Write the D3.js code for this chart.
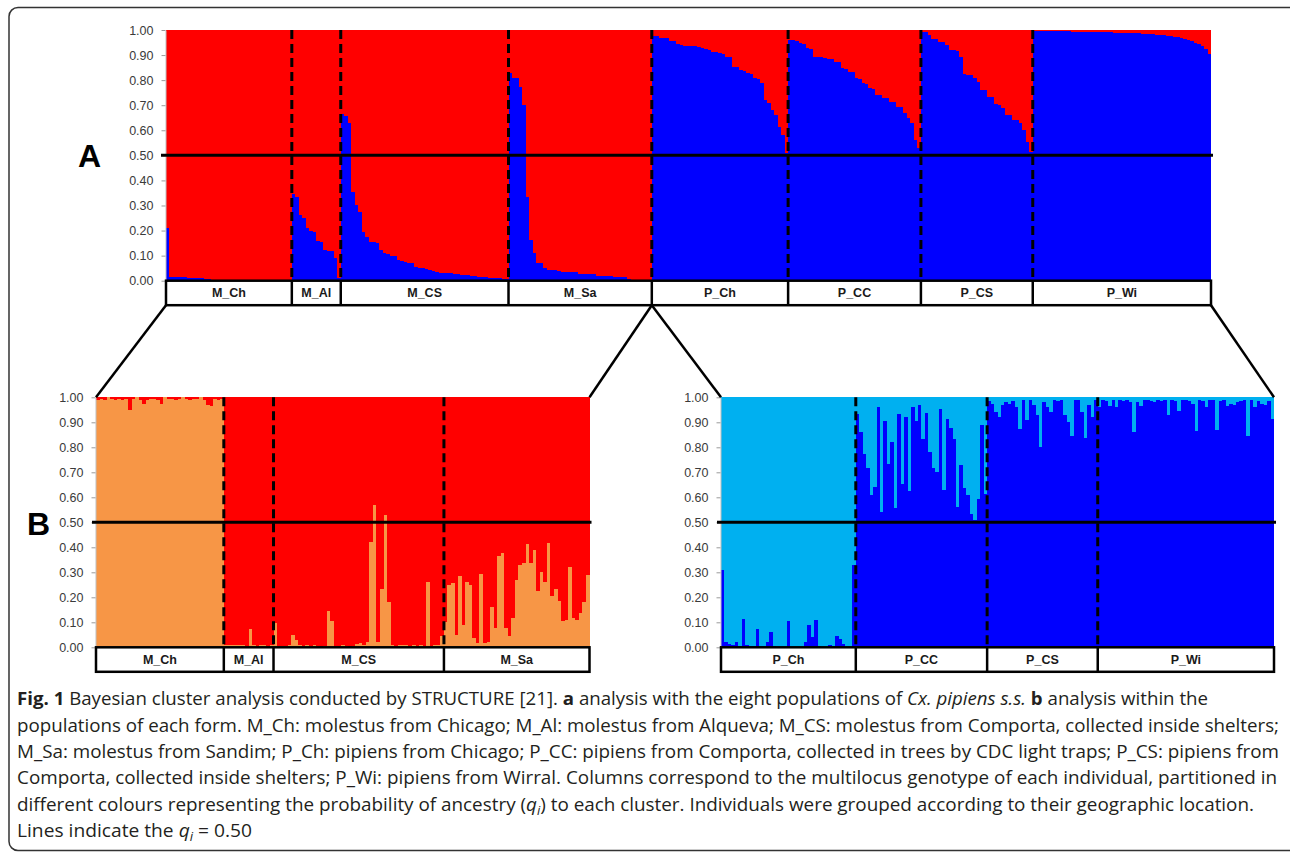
<!DOCTYPE html>
<html><head><meta charset="utf-8">
<script src="https://cdn.jsdelivr.net/npm/d3@7"></script>
<style>body{margin:0;background:#fff}svg{display:block}</style>
</head><body>
<svg id="c" width="1290" height="852"></svg>
<script>
// ---------- DATA ----------
const groupsMolestus = ["M_Ch", "M_Al", "M_CS", "M_Sa"];
const groupsPipiens = ["P_Ch", "P_CC", "P_CS", "P_Wi"];
const tickValues = [0, 0.1, 0.2, 0.3, 0.4, 0.5, 0.6, 0.7, 0.8, 0.9, 1.0];

// Panel A: probability of the "blue" cluster per individual (sorted within population)
const topMCh = [0.21,0.015,0.015,0.015,0.014,0.013,0.012,0.011,0.01,0.01,0.009,0.008,0.006,0.004,0.003,0.002,0.002,0.001,0.001,0.001,0.001,0.001,0.001,0.001,0.001,0.001,0.001,0.001,0.001,0.001,0.001,0.001,0.001,0.001,0.001,0.001];
const topMAl = [0.344,0.334,0.262,0.25,0.209,0.2,0.193,0.16,0.156,0.121,0.12,0.119,0.089,0.01];
const topMCS = [0.666,0.655,0.628,0.355,0.30,0.275,0.193,0.175,0.156,0.156,0.15,0.122,0.11,0.105,0.10,0.10,0.082,0.08,0.075,0.072,0.07,0.053,0.052,0.05,0.048,0.042,0.04,0.033,0.032,0.032,0.031,0.03,0.025,0.025,0.024,0.023,0.022,0.018,0.017,0.016,0.015,0.014,0.012,0.011,0.01,0.009,0.006,0.005];
const topMSa = [0.827,0.807,0.807,0.774,0.70,0.335,0.162,0.109,0.069,0.069,0.052,0.044,0.044,0.044,0.04,0.036,0.036,0.036,0.036,0.036,0.027,0.027,0.027,0.027,0.027,0.02,0.02,0.02,0.02,0.02,0.013,0.013,0.013,0.013,0.005,0.003,0.002,0.002,0.001,0.001,0.0];
const topPCh = [0.976,0.975,0.969,0.968,0.967,0.956,0.955,0.943,0.942,0.936,0.936,0.935,0.935,0.931,0.93,0.923,0.922,0.914,0.913,0.907,0.906,0.894,0.893,0.854,0.853,0.84,0.838,0.827,0.825,0.807,0.805,0.787,0.72,0.707,0.68,0.66,0.614,0.58,0.508];
const topPCC = [0.96,0.96,0.958,0.947,0.946,0.927,0.926,0.894,0.894,0.893,0.887,0.886,0.885,0.874,0.873,0.847,0.846,0.834,0.833,0.807,0.806,0.787,0.786,0.767,0.766,0.741,0.74,0.73,0.729,0.714,0.713,0.694,0.693,0.668,0.648,0.628,0.561,0.528];
const topPCS = [0.993,0.992,0.98,0.964,0.963,0.953,0.952,0.94,0.92,0.919,0.918,0.894,0.823,0.822,0.821,0.807,0.794,0.76,0.759,0.734,0.733,0.703,0.702,0.687,0.661,0.66,0.641,0.64,0.628,0.601,0.555,0.515];
const topPWi = [0.998,0.998,0.997,0.997,0.997,0.996,0.996,0.996,0.995,0.995,0.995,0.994,0.994,0.994,0.993,0.993,0.993,0.992,0.992,0.992,0.991,0.991,0.991,0.99,0.99,0.99,0.989,0.989,0.988,0.988,0.987,0.986,0.985,0.984,0.983,0.982,0.981,0.98,0.978,0.976,0.974,0.972,0.968,0.965,0.96,0.955,0.95,0.945,0.935,0.925,0.905];

// Panel B (molestus): probability of the "orange" cluster
const botMCh = [0.99,0.995,0.99,1.0,0.995,0.99,0.995,0.99,0.995,0.95,0.995,1.0,0.99,0.975,0.99,0.995,0.995,0.99,0.975,1.0,0.995,0.995,0.99,0.995,1.0,0.995,0.99,0.995,0.995,1.0,0.99,0.97,0.965,0.995,0.99,0.995];
const botMAl = [0.01,0.01,0.008,0.01,0.01,0.01,0.005,0.072,0.01,0.005,0.008,0.01,0.005,0.008];
const botMCS = [0.096,0.005,0.005,0.005,0.01,0.05,0.03,0.01,0.005,0.008,0.005,0.008,0.005,0.003,0.005,0.145,0.105,0.003,0.003,0.01,0.005,0.003,0.005,0.012,0.016,0.01,0.02,0.42,0.57,0.02,0.235,0.53,0.18,0.01,0.005,0.01,0.008,0.01,0.005,0.01,0.005,0.008,0.005,0.26,0.005,0.008,0.01,0.047];
const botMSa = [0.10,0.25,0.256,0.05,0.284,0.09,0.263,0.25,0.036,0.016,0.295,0.016,0.023,0.16,0.076,0.367,0.376,0.076,0.047,0.116,0.27,0.33,0.336,0.413,0.336,0.39,0.225,0.303,0.263,0.417,0.207,0.233,0.185,0.107,0.11,0.323,0.116,0.11,0.136,0.18,0.29];

// Panel B (pipiens): probability of the "dark blue" cluster
const botPCh = [0.31,0.02,0.015,0.01,0.02,0.005,0.115,0.01,0.005,0.005,0.075,0.005,0.005,0.02,0.06,0.005,0.003,0.003,0.003,0.105,0.003,0.003,0.003,0.003,0.02,0.09,0.04,0.11,0.005,0.003,0.003,0.008,0.005,0.045,0.035,0.015,0.003,0.003,0.33];
const botPCC = [0.933,0.86,0.772,0.716,0.61,0.643,0.963,0.54,0.905,0.733,0.823,0.559,0.932,0.653,0.923,0.625,0.963,0.905,0.97,0.832,0.936,0.783,0.719,0.70,0.952,0.629,0.913,0.876,0.833,0.561,0.729,0.636,0.61,0.535,0.51,0.595,0.89,0.615];
const botPCS = [0.985,0.975,0.94,0.92,0.97,0.98,0.975,0.985,0.96,0.873,0.99,0.91,0.99,0.97,0.93,0.80,0.98,0.96,0.94,0.99,0.985,0.99,0.93,0.90,0.847,0.99,0.99,0.94,0.836,0.97,0.92,0.99];
const botPWi = [0.96,0.99,0.985,0.965,0.99,0.96,0.99,0.985,0.99,0.98,0.86,0.98,0.965,0.99,0.99,0.985,0.98,0.99,0.985,0.99,0.93,0.99,0.985,0.945,0.99,0.99,0.985,0.975,0.865,0.99,0.985,0.96,0.99,0.99,0.87,0.985,0.99,0.965,0.975,0.97,0.98,0.985,0.99,0.845,0.99,0.96,0.985,0.975,0.97,0.985,0.915];

// ---------- DRAWING ----------
const svg = d3.select("#c");
const FONT = "'Liberation Sans', Arial, sans-serif";

// outer frame
svg.append("rect").attr("x", 9).attr("y", 7.5).attr("width", 1300).attr("height", 843)
  .attr("rx", 9).attr("fill", "none").attr("stroke", "#333").attr("stroke-width", 1.5);

function drawPanel(p) {
  const items = [];
  p.groups.forEach((g, gi) => p.values[gi].forEach((v, i) => items.push({ id: g + "-" + i, g, v })));
  const x = d3.scaleBand().domain(items.map(d => d.id)).range([p.x0, p.x1]).padding(0);
  const y = d3.scaleLinear().domain([0, 1]).range([p.yBot, p.yTop]);
  const bw = x.bandwidth();
  const G = svg.append("g");
  const lastId = items[items.length - 1].id;
  const wOf = d => d.id === lastId ? bw : bw + 1;

  const bars = G.append("g").attr("shape-rendering", "crispEdges")
    .selectAll("g.bar").data(items).join("g").attr("class", "bar");
  bars.append("rect")
    .attr("x", d => x(d.id)).attr("y", y(1))
    .attr("width", wOf)
    .attr("height", d => y(d.v) - y(1))
    .attr("fill", p.hiColor);
  bars.append("rect")
    .attr("x", d => x(d.id)).attr("y", d => y(d.v))
    .attr("width", wOf)
    .attr("height", d => y(0) - y(d.v))
    .attr("fill", p.loColor);

  // axis
  const ax = G.append("g").attr("transform", `translate(${p.x0 - 0.5},0)`)
    .call(d3.axisLeft(y).tickValues(tickValues).tickFormat(d3.format(".2f")).tickSize(4).tickSizeOuter(0).tickPadding(8));
  ax.attr("font-family", FONT).attr("font-size", 12.5);
  ax.select(".domain").attr("stroke", "#bfbfbf");
  ax.selectAll(".tick line").attr("stroke", "#9a9a9a");
  ax.selectAll(".tick text").attr("fill", "#3a3a3a");

  // group boundaries (dashed)
  const firsts = p.groups.map(g => items.find(d => d.g === g).id);
  const bounds = firsts.slice(1).map(id => x(id));
  G.selectAll("line.dash").data(bounds).join("line").attr("class", "dash")
    .attr("x1", d => d).attr("x2", d => d).attr("y1", y(1)).attr("y2", y(0))
    .attr("stroke", "#000").attr("stroke-width", 3).attr("stroke-dasharray", "9,5");

  // 0.50 line
  G.append("line").attr("x1", p.x0 - p.lineLeft).attr("x2", p.x1 + 2)
    .attr("y1", y(0.5)).attr("y2", y(0.5)).attr("stroke", "#000").attr("stroke-width", 3);

  // label box
  const bh = 24.5;
  G.append("rect").attr("x", p.x0).attr("y", y(0)).attr("width", p.x1 - p.x0).attr("height", bh)
    .attr("fill", "#fff").attr("stroke", "#000").attr("stroke-width", 2.5);
  G.selectAll("line.sep").data(bounds).join("line").attr("class", "sep")
    .attr("x1", d => d).attr("x2", d => d).attr("y1", y(0)).attr("y2", y(0) + bh)
    .attr("stroke", "#000").attr("stroke-width", 2.5);
  G.selectAll("text.glab").data(p.groups).join("text").attr("class", "glab")
    .attr("x", g => {
      const ids = items.filter(d => d.g === g);
      return (x(ids[0].id) + x(ids[ids.length - 1].id) + bw) / 2;
    })
    .attr("y", y(0) + bh / 2 + 4.5)
    .attr("text-anchor", "middle").attr("font-family", FONT).attr("font-weight", "bold")
    .attr("font-size", 12.5).attr("fill", "#1a1a1a").text(g => g);

  return { x, y, items, boxBottom: y(0) + bh };
}

const RED = "#ff0000", BLUE = "#0000ff", ORANGE = "#f79646", LIGHTBLUE = "#00b0f0";

const A = drawPanel({
  groups: groupsMolestus.concat(groupsPipiens),
  values: [topMCh, topMAl, topMCS, topMSa, topPCh, topPCC, topPCS, topPWi],
  x0: 166, x1: 1211, yTop: 30, yBot: 280.7, hiColor: RED, loColor: BLUE, lineLeft: 5
});
const BL = drawPanel({
  groups: groupsMolestus,
  values: [botMCh, botMAl, botMCS, botMSa],
  x0: 96, x1: 589.5, yTop: 397.3, yBot: 647.3, hiColor: RED, loColor: ORANGE, lineLeft: 4
});
const BR = drawPanel({
  groups: groupsPipiens,
  values: [botPCh, botPCC, botPCS, botPWi],
  x0: 721, x1: 1274, yTop: 397.3, yBot: 647.3, hiColor: LIGHTBLUE, loColor: BLUE, lineLeft: 4
});

// connectors between panel A and panel B
const splitX = A.x(groupsPipiens[0] + "-0");
const conn = [
  [166, A.boxBottom, 96, 397.3],
  [splitX, A.boxBottom, 589.5, 397.3],
  [splitX, A.boxBottom, 721, 397.3],
  [1211, A.boxBottom, 1274, 397.3]
];
svg.selectAll("line.conn").data(conn).join("line").attr("class", "conn")
  .attr("x1", d => d[0]).attr("y1", d => d[1]).attr("x2", d => d[2]).attr("y2", d => d[3])
  .attr("stroke", "#000").attr("stroke-width", 2.5);

// panel letters
svg.append("text").attr("x", 78).attr("y", 167).attr("font-family", FONT).attr("font-weight", "bold")
  .attr("font-size", 32).attr("fill", "#000").text("A");
svg.append("text").attr("x", 27).attr("y", 535).attr("font-family", FONT).attr("font-weight", "bold")
  .attr("font-size", 32).attr("fill", "#000").text("B");

// caption
const caption = [
  [["b", "Fig. 1"], ["n", " Bayesian cluster analysis conducted by STRUCTURE [21]. "], ["b", "a"], ["n", " analysis with the eight populations of "], ["i", "Cx. pipiens s.s."], ["n", " "], ["b", "b"], ["n", " analysis within the"]],
  [["n", "populations of each form. M_Ch: molestus from Chicago; M_Al: molestus from Alqueva; M_CS: molestus from Comporta, collected inside shelters;"]],
  [["n", "M_Sa: molestus from Sandim; P_Ch: pipiens from Chicago; P_CC: pipiens from Comporta, collected in trees by CDC light traps; P_CS: pipiens from"]],
  [["n", "Comporta, collected inside shelters; P_Wi: pipiens from Wirral. Columns correspond to the multilocus genotype of each individual, partitioned in"]],
  [["n", "different colours representing the probability of ancestry ("], ["i", "q"], ["sub", "i"], ["n", ") to each cluster. Individuals were grouped according to their geographic location."]],
  [["n", "Lines indicate the "], ["i", "q"], ["sub", "i"], ["n", " = 0.50"]]
];
const capEnds = [1208, 1279, 1279, 1277, 1254, 252];
const capBase = [705, 731.5, 758, 784, 810.5, 837];
caption.forEach((segs, li) => {
  const t = svg.append("text").attr("x", 17).attr("y", capBase[li])
    .attr("font-family", "'Open Sans', 'Noto Sans', sans-serif").attr("font-size", 17.5).attr("fill", "#231f20")
    .attr("textLength", capEnds[li] - 17).attr("lengthAdjust", "spacingAndGlyphs");
  let prevSub = false;
  segs.forEach(([kind, str]) => {
    const ts = t.append("tspan").text(str);
    if (kind === "b") ts.attr("font-weight", "bold");
    if (kind === "i") ts.attr("font-style", "italic");
    if (kind === "sub") { ts.attr("font-style", "italic").attr("font-size", 12).attr("dy", 4); prevSub = true; return; }
    if (prevSub) { ts.attr("dy", -4); prevSub = false; }
  });
});
</script>
</body></html>
